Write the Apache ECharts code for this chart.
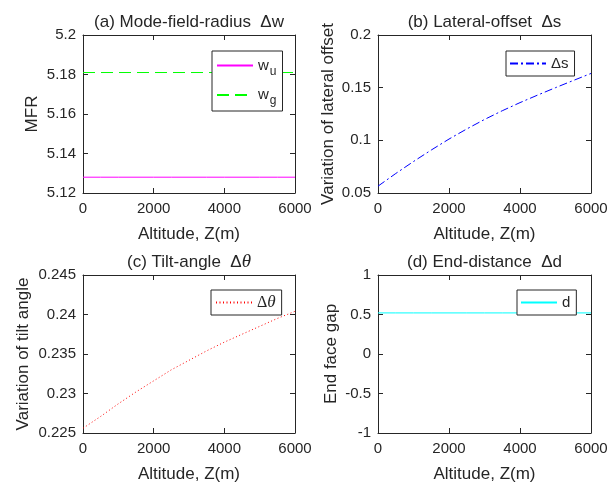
<!DOCTYPE html>
<html>
<head>
<meta charset="utf-8">
<script src="https://cdn.jsdelivr.net/npm/echarts@6/dist/echarts.min.js"></script>
<style>html,body{margin:0;padding:0;background:#fff}#c{width:611px;height:486px}</style>
</head>
<body>
<div id="c"></div>
<script>
// ---- data ----
const altitude = [0, 500, 1000, 1500, 2000, 2500, 3000, 3500, 4000, 4500, 5000, 5500, 6000];
const wu = [5.128, 5.128, 5.128, 5.128, 5.128, 5.128, 5.128, 5.128, 5.128, 5.128, 5.128, 5.128, 5.128];
const wg = [5.181, 5.181, 5.181, 5.181, 5.181, 5.181, 5.181, 5.181, 5.181, 5.181, 5.181, 5.181, 5.181];
const deltaS = [0.0565, 0.0685, 0.0799, 0.0908, 0.1012, 0.1108, 0.1198, 0.1281, 0.1358, 0.1430, 0.1500, 0.1568, 0.1635];
const deltaTheta = [0.2256, 0.2271, 0.2287, 0.2302, 0.2316, 0.2330, 0.2342, 0.2354, 0.2365, 0.2375, 0.2385, 0.2395, 0.2404];
const endGap = [0.52, 0.52, 0.52, 0.52, 0.52, 0.52, 0.52, 0.52, 0.52, 0.52, 0.52, 0.52, 0.52];
const xTicks = {min: 0, max: 6000, interval: 2000};
const yRanges = [
  {min: 5.12, max: 5.2, interval: 0.02},
  {min: 0.05, max: 0.2, interval: 0.05},
  {min: 0.225, max: 0.245, interval: 0.005},
  {min: -1, max: 1, interval: 0.5}
];
const titles = ['(a) Mode-field-radius  \u0394w', '(b) Lateral-offset  \u0394s', '(c) Tilt-angle  \u0394\u03b8', '(d) End-distance  \u0394d'];
const yNames = ['MFR', 'Variation of lateral offset', 'Variation of tilt angle', 'End face gap'];
const xName = 'Altitude, Z(m)';

const pairs = (ys) => altitude.map((x, i) => [x, ys[i]]);

// ---- layout ----
const FONT = "'Liberation Sans', Arial, Helvetica, sans-serif";
const SERIF = "'Liberation Serif', 'Times New Roman', serif";
const AX = '#262626';
const grids = [
  {left: 83, top: 35, width: 212, height: 158},
  {left: 378, top: 35, width: 213, height: 158},
  {left: 83, top: 275, width: 212, height: 158},
  {left: 378, top: 275, width: 213, height: 158}
];
const yGaps = [42, 41, 51, 38];

const xAxes = [], yAxes = [];
const lineCommon = {show: true, onZero: false, lineStyle: {color: AX, width: 1}};
const tickCommon = {show: true, inside: true, length: 5, lineStyle: {color: AX}};
grids.forEach((g, i) => {
  xAxes.push({
    type: 'value', gridIndex: i, position: 'bottom', min: xTicks.min, max: xTicks.max, interval: xTicks.interval,
    name: xName, nameLocation: 'middle', nameGap: 33,
    nameTextStyle: {fontFamily: FONT, fontSize: 17, color: AX},
    axisLine: lineCommon, axisTick: tickCommon,
    axisLabel: {fontFamily: FONT, fontSize: 15, color: AX, margin: 8, formatter: (v) => String(v)},
    splitLine: {show: false}
  });
  xAxes.push({
    type: 'value', gridIndex: i, position: 'top', min: xTicks.min, max: xTicks.max, interval: xTicks.interval,
    axisLine: lineCommon, axisTick: tickCommon,
    axisLabel: {show: false}, splitLine: {show: false}
  });
  const r = yRanges[i];
  yAxes.push({
    type: 'value', gridIndex: i, position: 'left', min: r.min, max: r.max, interval: r.interval,
    name: yNames[i], nameLocation: 'middle', nameGap: yGaps[i],
    nameTextStyle: {fontFamily: FONT, fontSize: 17, color: AX},
    axisLine: lineCommon, axisTick: tickCommon,
    axisLabel: {fontFamily: FONT, fontSize: 15, color: AX, margin: 7},
    splitLine: {show: false}
  });
  yAxes.push({
    type: 'value', gridIndex: i, position: 'right', min: r.min, max: r.max, interval: r.interval,
    axisLine: lineCommon, axisTick: tickCommon,
    axisLabel: {show: false}, splitLine: {show: false}
  });
});

const colors = {wu: '#ff00ff', wg: '#00ff00', ds: '#0000ff', dtheta: '#ff0000', d: '#00ffff'};
const dashes = {wu: 'solid', wg: [12, 6], ds: [8, 3, 2, 3], dtheta: [1, 2.5], d: 'solid'};

const mkSeries = (name, data, gi) => ({
  name, type: 'line', xAxisIndex: gi * 2, yAxisIndex: gi * 2, data: pairs(data),
  symbol: 'none', showSymbol: false, smooth: false, animation: false,
  lineStyle: {color: colors[name], width: 1, type: dashes[name]}, itemStyle: {color: colors[name]}
});

const series = [
  mkSeries('wu', wu, 0),
  mkSeries('wg', wg, 0),
  mkSeries('ds', deltaS, 1),
  mkSeries('dtheta', deltaTheta, 2),
  mkSeries('d', endGap, 3)
];

const rich = {
  t: {fontFamily: FONT, fontSize: 15, color: AX},
  sub: {fontFamily: FONT, fontSize: 12, color: AX, padding: [12, 0, 0, 1]},
  ser: {fontFamily: SERIF, fontSize: 16, color: AX},
  seri: {fontFamily: SERIF, fontSize: 17, fontStyle: 'italic', color: AX}
};
const legendLabels = {
  wu: '{t|w}{sub|u}',
  wg: '{t|w}{sub|g}',
  ds: '{t|\u0394s}',
  dtheta: '{ser|\u0394}{seri|\u03b8}',
  d: '{t|d}'
};
const mkLegend = (names, left, top, pad, gap) => ({
  data: names,
  left, top, orient: 'vertical',
  backgroundColor: '#fff', borderColor: AX, borderWidth: 1, borderRadius: 0,
  padding: pad, itemGap: gap, itemWidth: 36, itemHeight: 10,
  itemStyle: {opacity: 0},
  formatter: (n) => legendLabels[n],
  textStyle: {rich}, selectedMode: false
});

const legends = [
  mkLegend(['wu', 'wg'], 212, 51, [7, 6, 4, 4], 10),
  mkLegend(['ds'], 506, 51, [5, 6, 5, 3], 0),
  mkLegend(['dtheta'], 211, 290, [4, 6, 4, 4], 0),
  mkLegend(['d'], 517, 290, [5, 6, 5, 3], 0)
];

const centers = grids.map(g => g.left + g.width / 2);
const titleY = [22, 22, 262, 262];
const graphic = titles.map((t, i) => ({
  type: 'text', x: centers[i], y: titleY[i],
  style: i === 2 ? {
    text: '{a|(c) Tilt-angle  }{b|\u0394}{c|\u03b8}',
    rich: {
      a: {fontFamily: FONT, fontSize: 17, fill: AX},
      b: {fontFamily: FONT, fontSize: 17, fill: AX},
      c: {fontFamily: SERIF, fontSize: 19, fontStyle: 'italic', fill: AX}
    },
    align: 'center', verticalAlign: 'middle'
  } : {
    text: t, font: '17px ' + FONT, fill: AX, align: 'center', verticalAlign: 'middle'
  }
}));

const chart = echarts.init(document.getElementById('c'), null, {renderer: 'canvas'});
chart.setOption({
  backgroundColor: '#fff',
  animation: false,
  grid: grids,
  xAxis: xAxes,
  yAxis: yAxes,
  legend: legends,
  series,
  graphic
});
</script>
</body>
</html>
